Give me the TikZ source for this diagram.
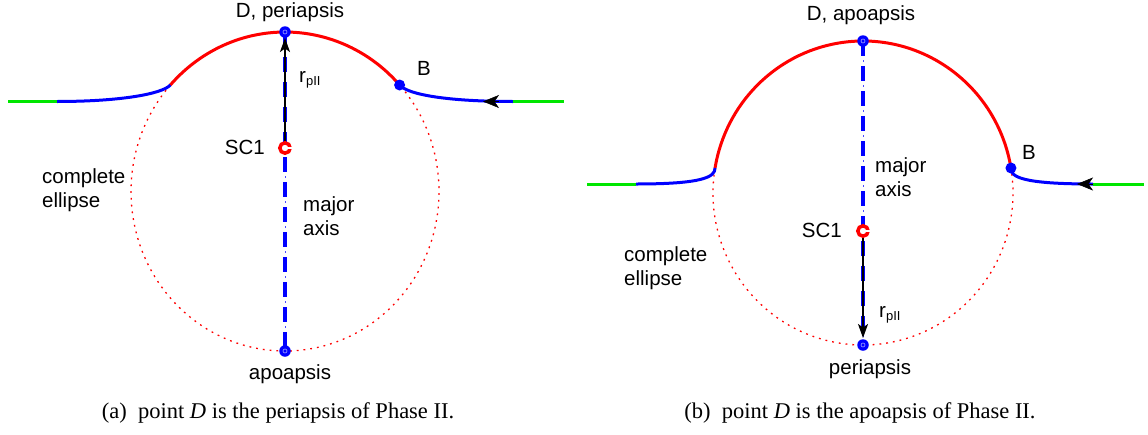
\documentclass[tikz,border=0pt]{standalone}
\usepackage{fontspec}
\setmainfont{Liberation Serif}
\setsansfont{Liberation Sans}
\usetikzlibrary{arrows.meta}
\definecolor{mred}{RGB}{255,0,0}
\definecolor{mblue}{RGB}{0,0,255}
\definecolor{mgreen}{RGB}{0,230,0}
\newcommand{\rpII}{r\raisebox{-0.3ex}{\fontsize{13}{13}\selectfont pII}}
\begin{document}
\begin{tikzpicture}[x=1pt,y=1pt,
  lab/.style={font=\sffamily\fontsize{20.5}{24}\selectfont, inner sep=0pt},
  captext/.style={font=\fontsize{22.5}{26}\selectfont, inner sep=0pt},
  orbit/.style={mred, line width=3pt},
  hyper/.style={mblue, line width=3pt},
  farleg/.style={mgreen, line width=3pt},
  fullell/.style={mred, line width=1.3pt, dash pattern=on 1.8pt off 5pt},
  axisthick/.style={mblue, line width=3.5pt, dash pattern=on 15pt off 10pt},
  axisthin/.style={mblue!70, line width=1pt, dash pattern=on 2pt off 23pt, dash phase=6pt},
  rarrow/.style={black, line width=1.6pt, -{Stealth[length=14pt,width=10pt,inset=3.5pt]}},
  dirtip/.style={black, line width=0.5pt, -{Stealth[length=16pt,width=13pt,inset=4.5pt]}},
  apsisdot/.style={circle, fill=mblue, minimum size=11.5pt, inner sep=0pt},
  innerring/.style={white!65!mblue, line width=0.6pt},
  scring/.style={mred, line width=3.5pt, fill=white},
]
\useasboundingbox (0,0) rectangle (1148,-434);

% ================= panel (a) =================
\coordinate (Ca) at (285,-191.5);
\coordinate (Ja) at (170.4,-85);
\coordinate (Ba) at (399.6,-85);
\coordinate (Da) at (285,-32);
\coordinate (SCa) at (285,-148);
\coordinate (Aa) at (285,-351);
\coordinate (GLa) at (57,-101.5);
\coordinate (ELa) at (8,-101.5);
\coordinate (GRa) at (513,-101.5);
\coordinate (ERa) at (564,-101.5);
\coordinate (TAa) at (499,-101.5);
\coordinate (THa) at (483,-101.5);

\draw[fullell] (Ja) arc[start angle=138.1, end angle=401.9, x radius=154pt, y radius=159.5pt];
\draw[axisthick] (Da) -- (Aa);
\draw[axisthin] (Da) -- (Aa);
\draw[rarrow, shorten >=6pt] (SCa) -- (Da);
\draw[orbit] (Ba) arc[start angle=41.9, end angle=138.1, x radius=154pt, y radius=159.5pt];
\draw[hyper] (Ja) .. controls (162,-94) and (120,-101.5) .. (GLa);
\draw[farleg] (GLa) -- (ELa);
\draw[hyper] (GRa) .. controls (450,-101.5) and (408,-95) .. (Ba);
\draw[farleg] (GRa) -- (ERa);
\draw[dirtip] (TAa) -- (THa);

\node[apsisdot] (Dam) at (Da) {};
\draw[innerring] (Da) circle[radius=2pt];
\node[apsisdot] (Aam) at (Aa) {};
\draw[innerring] (Aa) circle[radius=2pt];
\fill[mblue] (Ba) circle[radius=5.5pt];
\draw[scring] (SCa) circle[radius=5.2pt];
\draw[white, line width=1.3pt] (SCa) -- ++(9,0);

\node[lab] (DlabA) at (290,-12) {D, periapsis};
\node[lab] (BlabA) at (424,-68) {B};
\node[lab, anchor=west] (rlabA) at (299,-80) {\rpII};
\node[lab, anchor=east] (sclabA) at (265,-147) {SC1};
\node[lab, anchor=west, align=left] (elabA) at (42,-190) {complete\\ellipse};
\node[lab, anchor=west, align=left] (mlabA) at (303,-216) {major\\axis};
\node[lab] (alabA) at (290,-374) {apoapsis};
\node[captext] (capA) at (278,-413) {(a)\enspace point \textit{D} is the periapsis of Phase II.};

% ================= panel (b) =================
\coordinate (Cb) at (863,-193);
\coordinate (Jb) at (715.05,-168);
\coordinate (Bb) at (1010.95,-168);
\coordinate (Db) at (863,-41);
\coordinate (SCb) at (863,-231);
\coordinate (Pb) at (863,-345);
\coordinate (GLb) at (636,-184);
\coordinate (ELb) at (587,-184);
\coordinate (GRb) at (1093,-184);
\coordinate (ERb) at (1144,-184);
\coordinate (TAb) at (1093,-184);
\coordinate (THb) at (1077,-184);

\draw[fullell] (Jb) arc[start angle=170.53, end angle=369.47, x radius=150pt, y radius=152pt];
\draw[axisthick] (Db) -- (Pb);
\draw[axisthin] (Db) -- (Pb);
\draw[rarrow, shorten >=7pt] (SCb) -- (Pb);
\draw[orbit] (Bb) arc[start angle=9.47, end angle=170.53, x radius=150pt, y radius=152pt];
\draw[hyper] (Jb) .. controls (715,-177) and (703,-184) .. (GLb);
\draw[farleg] (GLb) -- (ELb);
\draw[hyper] (GRb) .. controls (1022,-184) and (1010.5,-177) .. (Bb);
\draw[farleg] (GRb) -- (ERb);
\draw[dirtip] (TAb) -- (THb);

\node[apsisdot] (Dbm) at (Db) {};
\draw[innerring] (Db) circle[radius=2pt];
\node[apsisdot] (Pbm) at (Pb) {};
\draw[innerring] (Pb) circle[radius=2pt];
\fill[mblue] (Bb) circle[radius=5.5pt];
\draw[scring] (SCb) circle[radius=5.2pt];
\draw[white, line width=1.3pt] (SCb) -- ++(9,0);

\node[lab] (DlabB) at (861,-15) {D, apoapsis};
\node[lab] (BlabB) at (1029,-152) {B};
\node[lab, anchor=west, align=left] (mlabB) at (875,-177) {major\\axis};
\node[lab, anchor=east] (sclabB) at (842,-230) {SC1};
\node[lab, anchor=west, align=left] (elabB) at (624,-268) {complete\\ellipse};
\node[lab, anchor=west] (rlabB) at (879,-315) {\rpII};
\node[lab] (plabB) at (870,-369) {periapsis};
\node[captext] (capB) at (860,-413) {(b)\enspace point \textit{D} is the apoapsis of Phase II.};
\end{tikzpicture}
\end{document}
